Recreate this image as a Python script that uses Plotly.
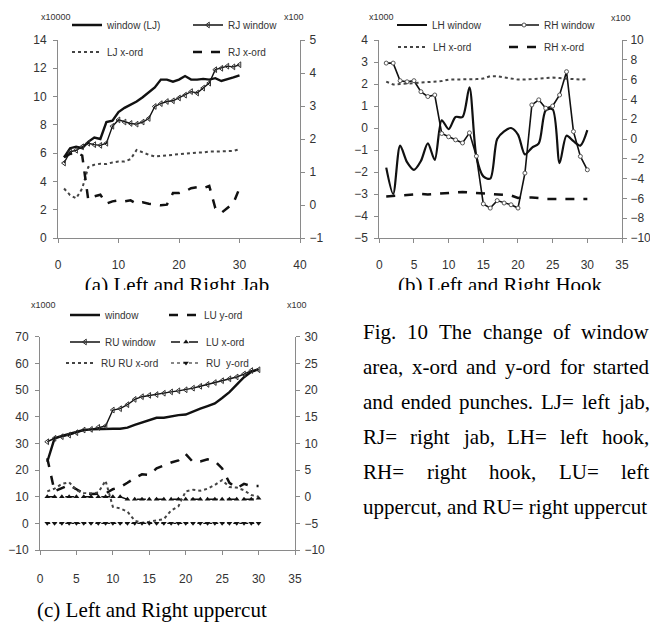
import plotly.graph_objects as go

W, H = 650, 623
SANS = "Liberation Sans, Arial, sans-serif"
SERIF = "Liberation Serif, Times New Roman, serif"
AX = "#8a8a8a"
TXT = "#333333"

# ---------------- data ----------------
x_pts = list(range(1, 31))

# (a) Left and Right Jab
lj_window = [5.7, 6.35, 6.45, 6.35, 6.8, 7.1, 7.0, 8.2, 8.3, 8.9, 9.2, 9.4, 9.65, 9.95, 10.3,
             10.65, 11.2, 11.2, 11.05, 11.2, 11.45, 11.2, 11.2, 11.25, 11.2, 11.3, 11.1, 11.2, 11.35, 11.5]
rj_window = [5.3, 6.1, 6.2, 6.45, 6.7, 6.6, 6.55, 6.7, 7.9, 8.35, 8.2, 8.1, 8.05, 8.2, 8.45,
             9.3, 9.5, 9.65, 9.7, 9.9, 10.1, 10.35, 10.25, 10.6, 10.95, 11.9, 12.0, 12.15, 12.1, 12.25]
lj_xord = [0.5, 0.3, 0.2, 0.5, 1.15, 1.22, 1.25, 1.24, 1.29, 1.32, 1.32, 1.39, 1.67, 1.59, 1.52,
           1.47, 1.49, 1.49, 1.52, 1.55, 1.55, 1.57, 1.59, 1.59, 1.62, 1.62, 1.62, 1.62, 1.64, 1.69]
rj_xord = [1.45, 1.55, 1.6, 1.5, 0.16, 0.26, 0.31, 0.04, 0.11, 0.14, 0.11, 0.14, 0.04, 0.08, 0.04,
           0.01, -0.01, 0.01, 0.36, 0.36, 0.41, 0.51, 0.54, 0.51, 0.58, -0.09, -0.24, -0.09, 0.06, 0.51]

# (b) Left and Right Hook
lh_window = [-1.8, -3.0, -0.8, -1.55, -1.9, -1.5, -0.7, -1.45, 0.35, -0.05, 0.5, 0.5, 1.85, -1.3, -2.2,
             -2.3, -0.5, -0.15, 0.0, -0.3, -1.2, -0.9, -0.7, 0.8, 0.85, -1.6, -0.35, -0.6, -0.8, -0.1]
rh_window = [2.95, 2.95, 2.15, 2.1, 2.15, 1.65, 1.43, 1.5, -0.25, -0.4, -0.54, -0.68, -0.22, -1.28, -3.45,
             -3.64, -3.3, -3.41, -3.49, -3.64, -2.05, 1.05, 1.28, 0.9, 1.0, 1.5, 2.56, -0.16, -1.29, -1.9]
lh_xord = [5.8, 5.5, 5.55, 5.6, 5.6, 5.65, 5.7, 5.75, 5.85, 6.0, 6.0, 6.05, 6.05, 6.05, 6.1,
           6.35, 6.35, 6.25, 6.15, 6.0, 6.0, 6.05, 6.1, 6.2, 6.2, 6.15, 6.1, 6.0, 6.0, 6.05]
rh_xord = [-5.8, -5.75, -5.65, -5.6, -5.55, -5.55, -5.6, -5.55, -5.45, -5.4, -5.35, -5.35, -5.4, -5.45, -5.5,
           -5.5, -5.55, -5.6, -5.7, -5.95, -5.9, -5.9, -5.95, -6.05, -6.05, -6.05, -6.05, -6.05, -6.05, -6.05]

# (c) Left and Right uppercut
lu_window = [23.1, 31.9, 32.75, 33.5, 34.4, 35.0, 35.25, 35.4, 35.5, 35.5, 35.5, 35.9, 36.9, 37.8, 38.7,
             39.6, 39.6, 40.2, 40.6, 40.8, 42.0, 43.0, 44.0, 45.0, 47.0, 49.2, 52.0, 54.8, 56.8, 57.8]
ru_window = [30.6, 31.9, 32.5, 33.1, 34.0, 35.0, 35.25, 36.0, 36.5, 42.5, 43.0, 44.5, 46.5, 47.5, 48.0,
             48.3, 48.8, 49.3, 49.7, 50.1, 50.7, 51.4, 52.1, 52.8, 53.5, 54.2, 54.9, 56.0, 57.3, 57.6]
lu_yord = [7.2, 1.0, 1.6, 2.2, 1.4, 0.6, 0.5, 0.5, 0.6, 1.4, 1.8, 2.6, 3.5, 4.2, 4.1,
           5.3, 5.9, 6.4, 6.8, 8.0, 6.5, 6.6, 7.0, 6.7, 5.3, 2.6, 1.6, 2.4, 2.0, 2.0]
lu_xord = [0.0, 0.0, 0.0, 0.0, 0.0, 0.0, 0.0, 0.0, 0.0, 0.0, 0.0, -0.5, -0.5, -0.5, -0.5,
           -0.5, -0.5, -0.5, -0.5, -0.5, -0.5, -0.5, -0.5, -0.5, -0.5, -0.5, -0.5, -0.5, -0.5, -0.3]
ru_xord = [1.0, 1.5, 2.4, 2.7, 1.2, 0.7, 0.6, 0.8, 3.0, -1.9, -2.2, -2.8, -4.5, -4.9, -4.7,
           -4.4, -4.2, -2.6, -1.8, 1.0, 1.3, 1.1, 1.5, 2.2, 3.1, 1.8, 1.7, 1.2, 0.3, 0.0]
ru_yord = [-5, -5, -5, -5, -5, -5, -5, -5, -5, -5, -5, -5, -5, -5, -5,
           -5, -5, -5, -5, -5, -5, -5, -5, -5, -5, -5, -5, -5, -5, -5]

caption_a = "(a) Left and Right Jab"
caption_b = "(b) Left and Right Hook"
caption_c = "(c) Left and Right uppercut"

fig_text_lines = [
    "Fig. 10 The change of window",
    "area, x-ord and y-ord for started",
    "and ended punches. LJ= left jab,",
    "RJ= right jab, LH= left hook,",
    "RH= right hook, LU= left",
    "uppercut, and RU= right uppercut",
]
line_cy = [332, 367, 402, 437, 472, 507]
TEXT_LEFT, TEXT_RIGHT, TEXT_SIZE = 361, 647, 21

# Times / Liberation Serif advance widths (per 1000 em) used to justify the text block
TIMES = {
    'a': 444, 'b': 500, 'c': 444, 'd': 500, 'e': 444, 'f': 333, 'g': 500, 'h': 500, 'i': 278,
    'j': 278, 'k': 500, 'l': 278, 'm': 778, 'n': 500, 'o': 500, 'p': 500, 'q': 500, 'r': 333,
    's': 389, 't': 278, 'u': 500, 'v': 500, 'w': 722, 'x': 500, 'y': 500, 'z': 444,
    'F': 556, 'H': 722, 'J': 389, 'L': 611, 'R': 667, 'T': 611, 'U': 722,
    '.': 250, ',': 250, '-': 333, '=': 564, ' ': 250, '0': 500, '1': 500,
}


def text_w(s, size):
    return sum(TIMES.get(ch, 500) for ch in s) * size / 1000.0


def fx(p):
    return p / W


def fy(p):
    return 1 - p / H


fig = go.Figure()

BLACK = "#111111"


def add(x, y, name, xa, ya, legend, **kw):
    fig.add_trace(go.Scatter(x=x, y=y, name=name, xaxis=xa, yaxis=ya, legend=legend,
                             hoverinfo="skip", **kw))


# (a)
add(x_pts, lj_window, "window (LJ)", "x", "y", "legend",
    mode="lines", line=dict(color=BLACK, width=2.4))
add(x_pts, rj_window, "RJ window", "x", "y", "legend2",
    mode="lines+markers", line=dict(color=BLACK, width=1.4),
    marker=dict(symbol="triangle-left-open", size=5, color="#333", line=dict(width=1)))
add(x_pts, lj_xord, "LJ x-ord", "x", "y2", "legend3",
    mode="lines", line=dict(color="#444", width=2, dash="dot"))
add(x_pts, rj_xord, "RJ x-ord", "x", "y2", "legend4",
    mode="lines", line=dict(color=BLACK, width=2.5, dash="dash"))

# (b)
add(x_pts, lh_window, "LH window", "x2", "y3", "legend5",
    mode="lines", line=dict(color=BLACK, width=2.2, shape="spline", smoothing=0.8))
add(x_pts, rh_window, "RH window", "x2", "y3", "legend6",
    mode="lines+markers", line=dict(color=BLACK, width=1.6),
    marker=dict(symbol="circle", size=4, color="white", line=dict(width=1, color="#555")))
add(x_pts, lh_xord, "LH x-ord", "x2", "y4", "legend7",
    mode="lines", line=dict(color="#444", width=2, dash="dot"))
add(x_pts, rh_xord, "RH x-ord", "x2", "y4", "legend8",
    mode="lines", line=dict(color=BLACK, width=2.5, dash="dash"))

# (c)
add(x_pts, lu_window, "window", "x3", "y5", "legend9",
    mode="lines", line=dict(color=BLACK, width=2.4))
add(x_pts, lu_yord, "LU y-ord", "x3", "y6", "legend10",
    mode="lines", line=dict(color=BLACK, width=2.5, dash="dash"))
add(x_pts, ru_window, "RU window", "x3", "y5", "legend11",
    mode="lines+markers", line=dict(color=BLACK, width=1.4),
    marker=dict(symbol="triangle-left-open", size=5, color="#333", line=dict(width=1)))
add(x_pts, lu_xord, "LU x-ord", "x3", "y6", "legend12",
    mode="lines+markers", line=dict(color=BLACK, width=1.5, dash="dash"),
    marker=dict(symbol="triangle-up", size=5, color=BLACK))
add(x_pts, ru_xord, "RU RU x-ord", "x3", "y6", "legend13",
    mode="lines", line=dict(color="#444", width=2, dash="dot"))
add(x_pts, ru_yord, "RU  y-ord", "x3", "y6", "legend14",
    mode="lines+markers", line=dict(color=BLACK, width=1.2, dash="dot"),
    marker=dict(symbol="triangle-down", size=5, color=BLACK))

# clipped captions (a) and (b): the lower half is hidden, as in the reference
fig.add_trace(go.Scatter(x=[177, 500], y=[287, 287], mode="text",
                         text=[caption_a, caption_b],
                         textfont=dict(family=SERIF, size=21, color="black"),
                         xaxis="x4", yaxis="y7", cliponaxis=True,
                         showlegend=False, hoverinfo="skip"))


def axis(domain, rng, dtick, anchor, side=None, overlaying=None, standoff=4):
    d = dict(domain=domain, range=rng, dtick=dtick, anchor=anchor, showline=True,
             linecolor=AX, linewidth=1, ticks="outside", ticklen=4, tickcolor=AX,
             showgrid=False, zeroline=False, fixedrange=True, automargin=False,
             tickfont=dict(family=SANS, size=12, color=TXT),
             ticklabelstandoff=standoff)
    if side:
        d["side"] = side
    if overlaying:
        d.pop("domain")
        d["overlaying"] = overlaying
    return d


ya_dom = [fy(238), fy(40)]
yc_dom = [fy(550), fy(336.7)]

layout = dict(
    width=W, height=H, autosize=False,
    margin=dict(l=0, r=0, t=0, b=0, pad=0, autoexpand=False),
    paper_bgcolor="white", plot_bgcolor="rgba(0,0,0,0)",
    xaxis=axis([fx(58), fx(300)], [0, 40], 10, "y", standoff=12),
    yaxis=axis(ya_dom, [0, 14], 2, "x"),
    yaxis2=axis(None, [-1, 5], 1, "x", side="right", overlaying="y", standoff=2),
    xaxis2=axis([fx(379.3), fx(622)], [0, 35], 5, "y3", standoff=12),
    yaxis3=axis(ya_dom, [-5, 4], 1, "x2"),
    yaxis4=axis(None, [-10, 10], 2, "x2", side="right", overlaying="y3", standoff=1),
    xaxis3=axis([fx(40), fx(295)], [0, 35], 5, "y5", standoff=14),
    yaxis5=axis(yc_dom, [-10, 70], 10, "x3"),
    yaxis6=axis(None, [-10, 30], 5, "x3", side="right", overlaying="y5", standoff=2),
    xaxis4=dict(domain=[0, 1], range=[0, W], visible=False, anchor="y7", fixedrange=True,
                automargin=False),
    yaxis7=dict(domain=[fy(290), fy(262)], range=[290, 262], visible=False, anchor="x4",
                fixedrange=True, automargin=False),
)

# legends: (text start px, row centre px)
legend_pos = {
    "legend": (106, 25), "legend2": (227, 25), "legend3": (106, 52), "legend4": (227, 52),
    "legend5": (431, 25), "legend6": (543, 25), "legend7": (432, 47), "legend8": (543, 47),
    "legend9": (104, 315), "legend10": (203, 315), "legend11": (104, 342), "legend12": (205, 342),
    "legend13": (100, 363), "legend14": (205, 363),
}
for key, (tx, ty) in legend_pos.items():
    layout[key] = dict(x=fx(tx - 39), y=fy(ty), xanchor="left", yanchor="middle",
                       bgcolor="rgba(0,0,0,0)", borderwidth=0, itemwidth=30,
                       font=dict(family=SANS, size=10, color=TXT))

fig.update_layout(**layout)

# multiplier labels
for txt, px, py in [("x10000", 56, 17), ("x100", 294, 17), ("x1000", 381, 17), ("x100", 621, 18),
                    ("x1000", 43, 305), ("x100", 297, 305)]:
    fig.add_annotation(text=txt, x=fx(px), y=fy(py), xref="paper", yref="paper",
                       xanchor="center", yanchor="middle",
                       showarrow=False, font=dict(family=SANS, size=9, color=TXT))

# caption (c)
fig.add_annotation(text=caption_c, x=fx(151.5), y=fy(610), xref="paper", yref="paper",
                   xanchor="center", yanchor="middle",
                   showarrow=False, font=dict(family=SERIF, size=21, color="black"))

# figure text, justified: every line but the last is spread from TEXT_LEFT to TEXT_RIGHT
for i, (line, cy) in enumerate(zip(fig_text_lines, line_cy)):
    last = i == len(fig_text_lines) - 1
    words = [line] if last else line.split(" ")
    widths = [text_w(w, TEXT_SIZE) for w in words]
    gap = 0 if len(words) == 1 else (TEXT_RIGHT - TEXT_LEFT - sum(widths)) / (len(words) - 1)
    x = TEXT_LEFT
    for w, wd in zip(words, widths):
        fig.add_annotation(text=w, x=fx(x), y=fy(cy), xref="paper", yref="paper",
                           showarrow=False, xanchor="left", yanchor="middle",
                           font=dict(family=SERIF, size=TEXT_SIZE, color="black"))
        x += wd + gap

# remove the page's default body margin so the 650x623 figure fills the window exactly
fig.write_html("out.html", config={"displayModeBar": False},
               post_script="document.body.style.margin='0';document.body.style.overflow='hidden';")
